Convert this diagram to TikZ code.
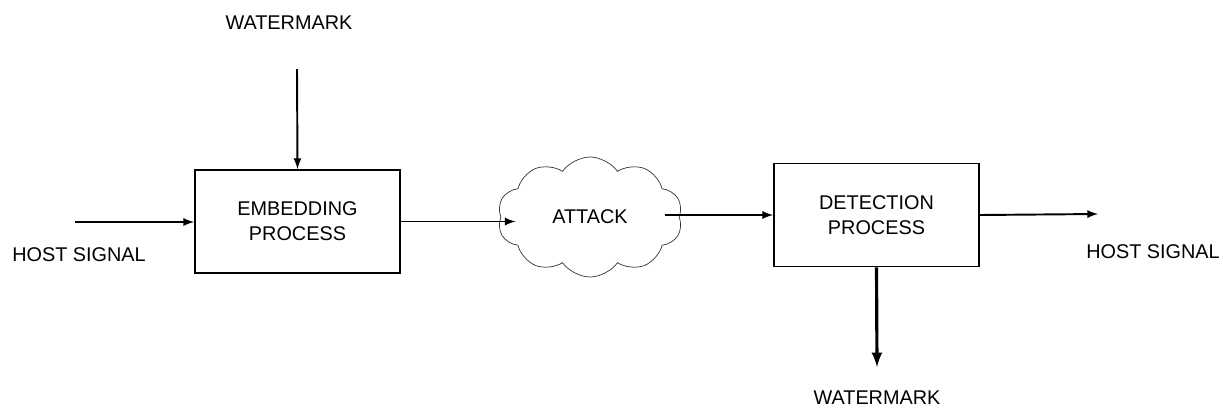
\documentclass[tikz,border=0pt]{standalone}
\usepackage{fontspec}
\setmainfont{Liberation Sans}
\usetikzlibrary{shapes.symbols}
\tikzset{>=latex}
\tikzset{
  block/.style={draw, line width=1.1pt, minimum width=4.1cm, minimum height=2.06cm, align=center},
  label/.style={inner sep=0pt},
  flow/.style={->, line width=1.1pt}
}

\begin{document}
\begin{tikzpicture}[x=0.02cm, y=-0.02cm, font=\fontsize{11.3}{14.2}\selectfont]
  \useasboundingbox (0,0) rectangle (1223,413);
  % blocks
  \node[block] (embed) at (297.5,221.5) {EMBEDDING\\PROCESS};
  \node[cloud, draw, gray!40!black, text=black, cloud puffs=10, cloud puff arc=110, aspect=1.5, minimum width=3.7cm, minimum height=2.4cm] (attack) at (590,217) {ATTACK};
  \node[block] (detect) at (876.5,215) {DETECTION\\PROCESS};
  % texts
  \node[label] (wmin) at (289,23) {WATERMARK};
  \node[label] (hostin) at (79,255) {HOST SIGNAL};
  \node[label] (hostout) at (1153,252) {HOST SIGNAL};
  \node[label] (wmout) at (877,398) {WATERMARK};
  % free ends
  \coordinate (wmtop) at (297,69);
  \coordinate (hoststart) at (75,222);
  \coordinate (hostend) at (1098,214);
  \coordinate (wmend) at (877,367);
  % arrows
  \draw[flow] (wmtop) -- (embed.north);
  \draw[flow] (hoststart) -- (hoststart -| embed.west);
  \draw[flow] (embed.east) -- ([xshift=0.3cm]embed.east -| attack.west);
  \draw[flow] ([xshift=-0.3cm]detect.west -| attack.east) -- (detect.west);
  \draw[flow] (detect.east) -- (hostend);
  \draw[->, line width=1.8pt] (detect.south) -- (wmend);
\end{tikzpicture}
\end{document}
